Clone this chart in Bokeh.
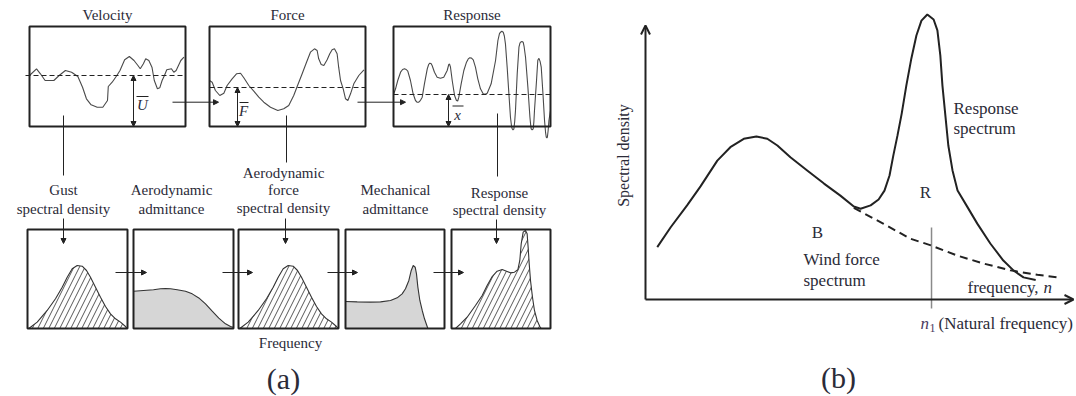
from math import pi

from bokeh.core.properties import value
from bokeh.embed import file_html
from bokeh.models import Arrow, NormalHead, OpenHead, Range1d
from bokeh.plotting import figure
from bokeh.resources import INLINE

# ---------------------------------------------------------------------------
# Time histories (t = fraction of record, u = deviation from the mean)
# ---------------------------------------------------------------------------
VEL_T = [0.00, 0.045, 0.07, 0.10, 0.156, 0.19, 0.23, 0.27, 0.31, 0.34, 0.365,
         0.395, 0.434, 0.47, 0.50, 0.505, 0.53, 0.56, 0.58, 0.61, 0.64, 0.67,
         0.695, 0.71, 0.73, 0.745, 0.765, 0.785, 0.80, 0.82, 0.835, 0.85, 0.865,
         0.88, 0.91, 0.925, 0.94, 0.97, 0.99]
VEL_U = [0, 6.7, 1.7, -5, -5, 0, 5, 3.3, -1, -11.7, -23.3, -29.3, -31.7, -31.7,
         -25, -11, -6.7, 0, 5, 15.7, 19, 15, 10, 6.7, 11.7, 16.7, 15, 8.3, -5,
         -13.3, -12.3, -5, 0, 5.7, 6.7, 3.3, 5, 15, 18.3]

FORCE_T = [0, 0.017, 0.038, 0.066, 0.092, 0.113, 0.145, 0.173, 0.199, 0.22,
           0.252, 0.284, 0.316, 0.348, 0.391, 0.438, 0.476, 0.508, 0.54, 0.562,
           0.594, 0.622, 0.647, 0.673, 0.69, 0.70, 0.716, 0.733, 0.754, 0.771,
           0.786, 0.801, 0.818, 0.828, 0.84, 0.857, 0.872, 0.887, 0.904, 0.925,
           0.957, 0.99]
FORCE_U = [7, 5.3, -3, -8, -5.7, 2, 8.7, 13.7, 14.3, 9.7, 2, -3.7, -9.7, -14.7,
           -19.7, -23, -21.3, -18, -8, 1, 13.7, 25.3, 35.3, 38.7, 37, 28.7, 23,
           22, 27.7, 33.7, 37.7, 38.7, 33.7, 20.3, 7, -1.3, -11.3, -13, -6.3,
           3.7, 12, 17.7]

RESP_T = [0, 0.013, 0.027, 0.045, 0.058, 0.07, 0.081, 0.091, 0.108, 0.125, 0.14,
          0.151, 0.161, 0.172, 0.183, 0.197, 0.215, 0.224, 0.231, 0.239, 0.246,
          0.261, 0.278, 0.299, 0.32, 0.342, 0.352, 0.357, 0.363, 0.374, 0.389,
          0.401, 0.409, 0.416, 0.431, 0.448, 0.465, 0.476, 0.486, 0.497, 0.508,
          0.522, 0.537, 0.554, 0.571, 0.584, 0.597, 0.622, 0.65, 0.665, 0.675,
          0.682, 0.690, 0.699, 0.706, 0.713, 0.724, 0.735, 0.745, 0.752, 0.756,
          0.761, 0.767, 0.772, 0.777, 0.788, 0.799, 0.805, 0.809, 0.818, 0.826,
          0.832, 0.841, 0.856, 0.869, 0.874, 0.877, 0.883, 0.89, 0.894, 0.898,
          0.911, 0.919, 0.924, 0.928, 0.934, 0.941, 0.952, 0.962, 0.969, 0.973,
          0.977, 0.98, 0.985, 0.99, 1.0]
RESP_U = [0, 5.7, 14, 22.3, 25.0, 25.7, 25.0, 23.3, 14, 0.7, -6, -7.8, -7.7,
          -5.8, -2.7, 10.7, 25.7, 30.0, 31.3, 31.0, 29, 22.3, 17.3, 16.3, 17.3,
          24, 30, 30.4, 27.3, 14, -1, -6, -6.5, -2.7, 10.7, 24, 32.3, 35.6, 36.7,
          36.4, 34.7, 27.3, 15.7, 5.7, 0.7, 0.2, 1.3, 10.7, 34, 54, 60.8, 62.3,
          63.2, 62.3, 58.5, 50.7, 27.3, 0.7, -22.7, -32.0, -34.3, -35.4, -34.3,
          -27.0, -16, 20.7, 47.3, 51.2, 52.3, 53.0, 52.3, 47.8, 37.3, 7.3, -22.7,
          -31.0, -34.3, -35.3, -34.3, -27.5, -16, 14, 34, 35.9, 35.7, 32.8,
          27.3, 0.7, -26, -38.5, -42.7, -43.5, -42.7, -36.0, -26, -16]

# ---------------------------------------------------------------------------
# Spectra in the lower row (f = normalised frequency, s = normalised density)
# ---------------------------------------------------------------------------
GUST_F = [0.013, 0.097, 0.197, 0.28, 0.347, 0.397, 0.447, 0.497, 0.547, 0.59,
          0.63, 0.68, 0.73, 0.78, 0.83, 0.88, 0.93, 0.98, 0.997]
GUST_S = [0, 0.064, 0.182, 0.3, 0.417, 0.518, 0.603, 0.636, 0.629, 0.586, 0.518,
          0.417, 0.316, 0.222, 0.148, 0.098, 0.064, 0.02, 0]

AERO_ADM_F = [0, 0.10, 0.20, 0.27, 0.32, 0.37, 0.437, 0.52, 0.587, 0.653, 0.72,
              0.787, 0.853, 0.92, 0.97, 0.997]
AERO_ADM_S = [0.377, 0.384, 0.391, 0.401, 0.404, 0.401, 0.391, 0.377, 0.35,
              0.309, 0.249, 0.175, 0.104, 0.047, 0.02, 0.013]

FORCE_SD_F = GUST_F
FORCE_SD_S = GUST_S

MECH_ADM_F = [0, 0.118, 0.253, 0.354, 0.455, 0.522, 0.572, 0.606, 0.64, 0.664,
              0.684, 0.704, 0.717, 0.731, 0.751, 0.775, 0.798, 0.818, 0.832]
MECH_ADM_S = [0.273, 0.269, 0.266, 0.269, 0.283, 0.31, 0.35, 0.401, 0.485,
              0.586, 0.636, 0.619, 0.552, 0.418, 0.283, 0.182, 0.098, 0.04, 0]

RESP_SD_F = [0.04, 0.091, 0.158, 0.242, 0.31, 0.36, 0.411, 0.461, 0.512, 0.556,
             0.596, 0.636, 0.67, 0.69, 0.704, 0.724, 0.747, 0.764, 0.774, 0.785,
             0.798, 0.818, 0.838, 0.865, 0.892, 0.906]
RESP_SD_S = [0, 0.047, 0.114, 0.232, 0.333, 0.434, 0.525, 0.579, 0.596, 0.579,
             0.562, 0.569, 0.593, 0.687, 0.855, 0.973, 0.99, 0.956, 0.822, 0.653,
             0.485, 0.316, 0.182, 0.081, 0.02, 0]

# ---------------------------------------------------------------------------
# Panel (b): response spectrum and wind-force spectrum
# ---------------------------------------------------------------------------
RESPONSE_N = [0.028, 0.06, 0.099, 0.131, 0.171, 0.202, 0.234, 0.264, 0.29,
              0.314, 0.345, 0.385, 0.425, 0.464, 0.496, 0.512, 0.536, 0.555,
              0.569, 0.581, 0.59, 0.6, 0.61, 0.621, 0.633, 0.645, 0.657, 0.671,
              0.686, 0.695, 0.702, 0.707, 0.714, 0.721, 0.731, 0.743, 0.767,
              0.79, 0.821, 0.852, 0.876, 0.9, 0.929]
RESPONSE_S = [0.187, 0.258, 0.336, 0.404, 0.496, 0.544, 0.574, 0.582, 0.574,
              0.55, 0.508, 0.461, 0.414, 0.371, 0.332, 0.324, 0.336, 0.357,
              0.389, 0.443, 0.514, 0.586, 0.664, 0.764, 0.861, 0.943, 0.996,
              1.018, 1.0, 0.961, 0.871, 0.764, 0.657, 0.55, 0.461, 0.389, 0.329,
              0.271, 0.2, 0.139, 0.104, 0.079, 0.07]
WIND_N = [0.496, 0.567, 0.631, 0.68, 0.742, 0.806, 0.869, 0.933, 0.988]
WIND_S = [0.327, 0.27, 0.217, 0.193, 0.157, 0.128, 0.104, 0.088, 0.078]
N1 = 0.681

# ---------------------------------------------------------------------------
# Layout (page pixels, y downwards)
# ---------------------------------------------------------------------------
W, H = 1076, 396
INK = "#222222"
CURVE = "#4a4a4a"
TEXT = "#2b2b38"
FONT = value("Liberation Serif")
A_SIZE = "15px"
B_SIZE = "17px"

TOP_Y0, TOP_Y1 = 26, 126
TOP = {"velocity": (29, 185, 75), "force": (209, 365, 87), "response": (393, 550, 94)}
BOT_Y0, BOT_Y1 = 229, 328
BOT_X = [(27, 127), (133, 233), (238, 338), (345, 444), (451, 550)]

B_X0, B_Y0, B_W, B_H = 645, 299, 420, 280

p = figure(width=W, height=H, x_range=Range1d(0, W), y_range=Range1d(H, 0),
           output_backend="svg", toolbar_location=None, min_border=0,
           background_fill_color="white", border_fill_color="white")
p.axis.visible = False
p.grid.visible = False
p.outline_line_color = None


def label(x, y, txt, size=A_SIZE, align="center", style="normal", angle=0.0,
          color=TEXT):
    p.text(x=[x], y=[y], text=[txt], text_font=FONT, text_font_size=size,
           text_align=align, text_baseline="middle", text_font_style=style,
           text_color=color, angle=angle)


def arrow(x0, y0, x1, y1, both=False, head=True, color=INK, width=1.0):
    tip = dict(size=5, line_color=color, fill_color=color, line_width=1)
    p.add_layout(Arrow(x_start=x0, y_start=y0, x_end=x1, y_end=y1,
                       end=NormalHead(**tip) if head else None,
                       start=NormalHead(**tip) if both else None,
                       line_color=color, line_width=width))


def box(x0, x1, y0, y1):
    p.quad(left=[x0], right=[x1], top=[y0], bottom=[y1], fill_color=None,
           line_color=INK, line_width=2)


# ---- panel (a), upper row: time histories ---------------------------------
histories = [("velocity", VEL_T, VEL_U, "Velocity"),
             ("force", FORCE_T, FORCE_U, "Force"),
             ("response", RESP_T, RESP_U, "Response")]
for key, ts, us, title in histories:
    x0, x1, mean_y = TOP[key]
    xs = [x0 + t * (x1 - x0) for t in ts]
    ys = [mean_y - u for u in us]
    p.line(xs, ys, line_color=CURVE, line_width=1.1)
    left = x0 - 4 if key == "velocity" else x0
    p.line([left, x1], [mean_y, mean_y], line_color=INK, line_width=1,
           line_dash="5 3")
    box(x0, x1, TOP_Y0, TOP_Y1)
    label((x0 + x1) / 2, 14, title)

# mean-value markers
for key, xm, sym, lx, over in [("velocity", 133, "U", 142, (136, 148)),
                               ("force", 237, "F", 243, (239, 248)),
                               ("response", 448, "x", 457, (452, 463))]:
    mean_y = TOP[key][2]
    arrow(xm, mean_y, xm, TOP_Y1, both=True)
    ly = (mean_y + TOP_Y1) / 2 + 4
    label(lx, ly, sym, size=A_SIZE, style="italic")
    p.line(list(over), [ly - 8.5, ly - 8.5], line_color=INK, line_width=1)

# signal flow between the upper boxes
arrow(172, 101.7, 218, 101.7)
arrow(357, 101.7, 405, 101.7)

# drop lines to the spectral labels
p.line([63, 63], [115, 175], line_color=INK, line_width=1)
p.line([286, 286], [115, 162], line_color=INK, line_width=1)
p.line([497, 497], [113, 176], line_color=INK, line_width=1)

# ---- panel (a), lower row: spectra ----------------------------------------
spectra = [(GUST_F, GUST_S, "hatch"), (AERO_ADM_F, AERO_ADM_S, "grey"),
           (FORCE_SD_F, FORCE_SD_S, "hatch"), (MECH_ADM_F, MECH_ADM_S, "grey"),
           (RESP_SD_F, RESP_SD_S, "hatch")]
for (bx0, bx1), (fs, ss, kind) in zip(BOT_X, spectra):
    xs = [bx0 + f * (bx1 - bx0) for f in fs]
    ys = [BOT_Y1 - s * (BOT_Y1 - BOT_Y0) for s in ss]
    if kind == "hatch":
        p.patch(xs, ys, fill_color=None, line_color=None, hatch_pattern="/",
                hatch_color="#444444", hatch_scale=11, hatch_weight=0.9)
    else:
        p.patch(xs + [xs[-1], xs[0]], ys + [BOT_Y1, BOT_Y1],
                fill_color="#d6d6d6", line_color=None)
    p.line(xs, ys, line_color="#333333", line_width=1.1)
    box(bx0, bx1, BOT_Y0, BOT_Y1)

# arrows between the spectra boxes
for xa, xb in [(115, 146), (222, 252), (327, 357), (433, 463)]:
    arrow(xa, 272, xb, 272)

# arrows into the spectra boxes
for xc, ya in [(63, 218), (285, 218), (496, 219)]:
    arrow(xc, ya, xc, 243)

# labels of the lower row
label(63, 189, "Gust")
label(63, 208, "spectral density")
label(171, 189, "Aerodynamic")
label(171, 208, "admittance")
label(283, 172, "Aerodynamic")
label(283, 189, "force")
label(283, 207, "spectral density")
label(395, 189, "Mechanical")
label(395, 208, "admittance")
label(499, 192, "Response")
label(499, 209, "spectral density")
label(290, 342, "Frequency")
label(283, 378, "(a)", size="30px")

# ---- panel (b) -------------------------------------------------------------
def bx(n):
    return B_X0 + n * B_W


def by(s):
    return B_Y0 - s * B_H


# axes with open arrow heads
p.add_layout(Arrow(x_start=B_X0, y_start=B_Y0, x_end=B_X0, y_end=25,
                   end=OpenHead(size=9, line_color=INK, line_width=2),
                   line_color=INK, line_width=2))
p.add_layout(Arrow(x_start=B_X0, y_start=B_Y0, x_end=1073, y_end=B_Y0,
                   end=OpenHead(size=9, line_color=INK, line_width=2),
                   line_color=INK, line_width=2))

# natural frequency marker
p.line([bx(N1), bx(N1)], [227, 308], line_color="#8a8a8a", line_width=1.5)

p.line([bx(n) for n in WIND_N], [by(s) for s in WIND_S], line_color=INK,
       line_width=2, line_dash="8 5")
p.line([bx(n) for n in RESPONSE_N], [by(s) for s in RESPONSE_S],
       line_color=INK, line_width=2)

label(623, 155, "Spectral density", size="16px", angle=pi / 2)
label(953, 108, "Response", size=B_SIZE, align="left")
label(953, 128, "spectrum", size=B_SIZE, align="left")
label(925, 192, "R", size=B_SIZE)
label(817, 232, "B", size=B_SIZE)
label(803, 259, "Wind force", size=B_SIZE, align="left")
label(803, 280, "spectrum", size=B_SIZE, align="left")
label(967, 287, "frequency,", size=B_SIZE, align="left")
label(1043, 287, "n", size=B_SIZE, align="left", style="italic")
label(920, 323, "n", size=B_SIZE, align="left", style="italic", color="#4a3a60")
label(929, 327, "1", size="12px", align="left", color="#4a3a60")
label(938, 323, "(Natural frequency)", size=B_SIZE, align="left")
label(838, 377, "(b)", size="30px")

open("out.html", "w").write(file_html(p, INLINE))
